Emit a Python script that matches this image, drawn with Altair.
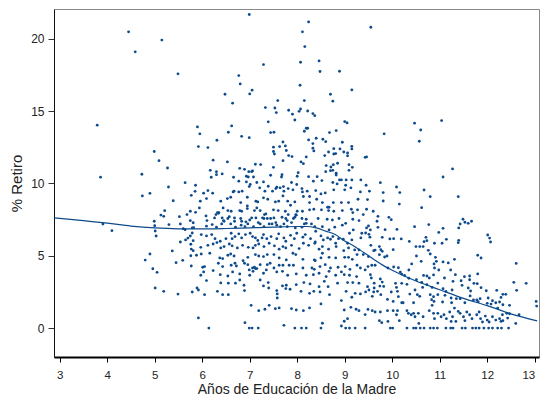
import altair as alt
import pandas as pd

# ---- scatter values (x = años de educación, y = % retiro) ----
zone_a = [(3.79,14.02),(3.86,10.43),(3.91,7.19),(4.10,6.73),(4.45,20.47),(4.59,19.09),(4.73,10.63),(4.74,9.13),
 (4.80,4.70),(4.90,9.31),(4.90,5.12),(4.96,4.10),(4.99,12.20),(4.99,7.38),(5.00,7.07),(5.01,6.71),(5.03,6.36),
 (5.01,2.77),(5.05,3.85),(5.09,11.57),(5.13,7.81),(5.15,19.90),(5.19,7.72),(5.19,2.54),(5.21,8.11),(5.27,11.06),
 (5.29,9.75),(5.30,7.15),(5.37,5.33),(5.39,8.80),(5.45,4.52),(5.49,17.57),(5.49,2.35),(5.52,7.70),(5.54,7.19),
 (5.54,5.95),(5.59,4.68),(5.60,6.87),(5.64,10.05),(5.64,6.80),(5.65,6.09),(5.68,7.84),(5.70,6.22),(5.75,8.07),
 (5.75,7.42),(5.75,6.36),(5.76,5.79),(5.76,5.00),(5.77,9.17),(5.77,5.46),(5.77,4.29),(5.79,6.92),(5.79,6.57),
 (5.79,2.49),(5.81,7.28),(5.81,6.04),(5.81,5.35),(5.82,6.94),(5.85,9.45),(5.86,9.87),(5.86,8.00),(5.88,5.03),
 (5.89,2.77),(5.90,13.90),(5.92,12.54)]

zone_b = [(5.95,13.42),(6.12,12.47),(6.31,12.98),(6.23,11.60),(6.17,10.90),(6.30,10.80),(6.30,10.60),(6.19,10.42),
 (6.42,10.65),(6.48,16.16),(6.53,11.48),(6.55,13.53),(6.62,13.97),(6.64,15.54),(6.77,17.45),(6.79,11.04),(6.80,16.87),
 (6.83,13.25),(6.89,10.97),(6.93,10.49),(6.97,10.44),(6.98,10.81),(6.99,21.67),(6.99,13.16),(7.00,16.18),(7.04,10.81),
 (7.05,16.44),(7.06,10.86),(7.08,10.44),(7.12,11.32),(7.23,11.30),(7.29,18.21),(7.33,15.24),(7.39,14.25),(7.44,13.51),
 (7.44,10.56),(7.50,12.50),(7.50,12.20),(7.50,11.11),(7.51,13.53),(7.52,12.03),(7.53,15.21),(7.56,14.89),(7.59,15.72),
 (7.63,12.54),(7.67,10.44),(7.68,10.60),(7.70,12.86),(7.70,11.57),(7.75,12.59),(7.77,12.27),(7.82,15.05),(7.82,11.92),
 (7.89,11.85),(7.90,14.78),(7.95,14.38),(8.00,10.49),(8.02,10.74),(8.04,14.98),(8.06,16.78),(8.07,18.37),(8.07,15.14),
 (8.08,11.48),(8.11,20.47),(8.13,11.36),(8.15,15.72),(8.15,13.60),(8.16,19.45),(8.19,13.81),(8.19,11.83),(8.22,13.81),
 (8.22,15.00),(8.24,21.16),(8.24,13.00),(8.24,10.46),(8.33,14.82),(8.33,12.75),(8.33,12.43),(8.35,12.24),(8.37,14.68),
 (8.40,13.12),(8.42,10.46),(8.46,18.46),(8.48,17.73),(8.54,13.05),(8.58,11.92),(8.60,12.88),(8.60,10.81),(8.61,11.23),
 (8.66,12.17),(8.68,13.51),(8.70,16.16),(8.70,10.88),(8.71,11.13),(8.75,15.68),(8.75,10.90),(8.76,11.29),(8.77,12.40),
 (8.77,12.03),(8.81,12.06),(8.82,13.65),(8.82,10.70),(8.82,10.57),(8.85,11.39),(8.89,17.75),(8.90,12.38),(8.95,12.84),
 (8.98,12.17),(9.00,14.27),(9.05,14.18),(9.06,12.10),(9.06,11.90),(9.09,11.29),(9.09,10.90),(9.15,16.46),(9.15,12.56),
 (9.15,12.38),(9.16,11.11),(9.43,11.80),(9.46,11.83),(9.55,20.79)]

zone_c = [(9.83,13.42),(10.47,14.16),(10.57,12.91),(10.60,13.69),(11.04,14.34),(11.07,10.44),(11.27,11.00)]

zone_d1 = [(6.66,10.42),(8.89,10.24),(8.93,10.24),(9.03,10.24),(9.15,10.24),(9.34,10.24),
 (6.77,10.15),(6.93,10.10),(7.15,10.06),(7.29,10.10),(7.01,9.92),(6.99,9.78),(7.21,9.69),(7.39,9.80),(7.57,9.73),
 (7.71,9.78),(7.64,9.69),(7.88,10.06),(7.99,9.92),(8.10,9.64),(8.34,10.15),(8.52,10.19),(8.75,10.06),(8.84,9.96),
 (9.02,9.87),(9.45,9.87),(6.12,9.50),(6.03,9.32),(6.22,9.32),(6.67,9.46),(6.77,9.41),(6.65,9.41),(6.84,9.46),
 (7.32,9.46),(7.48,9.46),(7.55,9.64),(7.72,9.46),(7.81,9.64),(7.91,9.55),(8.11,9.41),(8.21,9.46),(8.26,9.09),
 (8.13,9.09),(8.39,9.50),(8.50,9.27),(8.59,9.34),(8.77,9.55),(9.00,9.55),(9.13,9.69),(9.33,9.41),(9.52,9.46),
 (5.96,8.77),(6.09,8.95),(6.39,8.77),(6.53,8.95),(6.60,9.04),(6.81,8.67),(6.95,9.04),(7.13,8.77),(7.17,8.72),
 (7.29,9.00),(7.38,8.90),(7.54,8.72),(7.61,8.77),(7.70,9.13),(7.80,8.77),(7.86,8.49),(7.95,8.72),(8.26,8.67),
 (8.41,8.90),(8.53,8.67),(8.67,8.35),(8.76,8.67),(8.93,8.67),(9.08,8.67),(9.28,8.90),(9.48,8.88),
 (5.94,8.30),(6.32,7.98),(6.35,7.98),(6.44,8.30),(6.54,8.12),(6.61,8.07),(6.79,8.12),(6.83,8.07),(6.95,8.44),
 (6.95,8.26),(7.10,8.12),(7.15,8.30),(7.22,8.12),(7.34,7.89),(7.50,8.17),(7.60,8.12),(7.75,8.07),(7.81,7.84),
 (7.97,7.84),(8.00,8.07),(8.11,8.07),(8.26,8.17),(8.35,8.21),(8.51,8.17),(8.66,8.12),(8.64,8.35),(8.77,8.07),
 (8.95,8.12),(9.14,8.21),(9.27,8.17),(9.17,7.98),(9.46,8.21)]

zone_d2 = [(6.08,7.75),(6.10,7.43),(6.26,7.61),(6.29,7.84),(6.34,7.93),(6.42,7.61),(6.45,7.43),(6.46,7.38),
 (6.54,7.57),(6.57,7.70),(6.68,7.61),(6.68,7.38),(6.81,7.57),(6.83,7.38),(6.92,7.34),(7.00,7.47),(7.04,7.61),
 (7.13,7.61),(7.18,7.29),(7.27,7.61),(7.30,7.57),(7.31,7.84),(7.37,7.57),(7.44,7.57),(7.51,7.61),(7.55,7.29),
 (7.68,7.66),(7.76,7.57),(7.79,7.43),(7.88,7.29),(7.92,7.57),(7.95,7.66),(7.98,7.80),(8.10,7.57),(8.19,7.52),
 (8.30,7.20),(8.44,7.57),(8.63,7.52),(8.74,7.47),(8.88,7.57),(9.02,7.24),(9.17,7.52),(9.30,7.43),(9.39,7.84),
 (9.50,7.06),(6.09,7.04),(6.21,7.15),(6.30,6.97),(6.41,7.20),(6.60,7.20),(6.70,6.97),(6.82,7.11),(6.90,7.01),
 (6.96,7.20),(7.08,7.01),(7.22,7.20),(7.30,7.01),(7.41,7.20),(7.47,7.20),(7.57,7.11),(7.65,7.01),(7.72,7.20),
 (7.79,7.01),(7.96,6.92),(8.10,6.97),(8.15,7.20),(8.19,7.24),(8.37,7.01),(8.53,7.01),(8.67,6.78),(8.79,6.97),
 (8.95,7.11),(9.10,6.55),(9.18,6.78),(9.36,6.55),(9.46,6.92),(9.54,6.78),(5.98,6.46),(6.09,6.37),(6.20,6.46),
 (6.27,6.18),(6.38,6.00),(6.50,6.18),(6.61,6.55),(6.63,6.18),(6.69,6.32),(6.77,6.51),(6.83,6.23),(6.91,6.46),
 (7.01,6.55),(7.06,6.32),(7.12,6.23),(7.17,6.05),(7.26,6.23),(7.29,6.46),(7.36,6.18),(7.45,6.32),(7.57,6.18),
 (7.61,6.51),(7.72,6.23),(7.76,6.00),(7.86,6.41),(7.94,6.18),(7.99,6.55),(8.12,6.28),(8.17,6.46),(8.28,6.18),
 (8.39,6.69),(8.38,5.95),(8.50,6.37),(8.55,6.09),(8.64,6.23),(8.70,6.14),(8.75,6.32),(8.81,5.86),(8.87,6.18),
 (8.97,6.14),(9.06,5.86),(9.15,6.09),(9.34,6.23),(9.53,6.28)]

zone_d3 = [(5.97,5.58),(6.12,5.72),(6.23,5.81),(6.31,5.91),(6.39,5.54),(6.46,5.63),(6.57,5.81),(6.63,5.68),
 (6.74,5.54),(6.85,5.72),(6.97,5.58),(7.07,5.54),(7.12,5.72),(7.19,5.81),(7.30,5.63),(7.41,5.86),(7.52,5.68),
 (7.62,5.45),(7.70,5.63),(7.76,5.54),(7.88,5.72),(8.04,5.49),(8.13,5.86),(8.24,5.72),(8.37,5.86),(8.46,5.45),
 (8.53,5.63),(8.66,5.45),(8.82,5.63),(8.98,5.35),(9.08,5.54),(9.21,5.40),(9.30,5.40),(9.55,5.72),(9.61,5.35),
 (5.98,5.12),(6.16,5.17),(6.37,4.85),(6.43,4.80),(6.54,5.03),(6.60,5.12),(6.67,4.98),(6.86,4.66),(6.96,4.89),
 (7.12,5.08),(7.19,4.98),(7.29,4.94),(7.37,5.08),(7.51,5.08),(7.62,4.85),(7.77,4.71),(7.91,5.17),(7.97,5.08),
 (8.12,4.75),(8.36,4.71),(8.38,4.66),(8.50,4.85),(8.53,5.17),(8.67,4.89),(8.81,4.85),(9.00,4.89),(9.08,4.89),
 (9.16,4.75),(9.26,5.08),(9.39,5.08),(9.50,4.94),(6.01,4.20),(6.05,4.25),(6.34,4.48),(6.43,4.25),(6.61,4.34),
 (6.69,4.48),(6.72,4.29),(6.89,4.48),(6.96,4.38),(7.10,4.20),(7.15,4.11),(7.22,4.38),(7.37,4.38),(7.43,4.48),
 (7.51,4.15),(7.62,4.34),(7.70,4.34),(7.83,4.34),(7.92,4.34),(8.12,4.15),(8.31,4.15),(8.36,4.06),(8.48,4.25),
 (8.59,4.38),(8.70,4.15),(8.86,4.20),(9.01,4.25),(9.11,4.06),(9.26,4.34),(9.33,4.15),(9.49,4.25),(9.57,4.34)]

zone_d4 = [(6.03,3.88),(5.97,3.65),(6.23,3.97),(6.38,3.69),(6.54,3.60),(6.64,3.88),(6.79,3.74),(6.99,4.02),
 (7.06,4.15),(7.07,3.92),(7.12,4.11),(7.29,3.79),(7.35,4.02),(7.57,3.88),(7.69,3.92),(7.80,3.65),(7.98,3.74),
 (8.19,3.65),(8.34,3.69),(8.46,3.79),(8.61,3.56),(8.67,3.92),(8.81,3.65),(8.93,3.88),(8.99,3.69),(9.10,3.65),
 (9.25,3.56),(9.43,4.02),(9.54,3.69),(6.09,3.28),(6.39,3.12),(6.55,3.10),(6.70,3.10),(6.79,3.32),(6.88,2.96),
 (7.00,3.65),(7.22,3.32),(7.39,3.14),(7.69,2.91),(7.77,2.96),(7.98,3.00),(8.14,3.14),(8.27,3.05),(8.46,2.86),
 (8.57,3.23),(8.65,2.86),(8.85,3.10),(9.06,3.14),(9.17,3.14),(9.30,3.10),(9.48,2.86),(9.62,3.10),(5.92,2.63),
 (6.05,2.31),(6.32,2.54),(6.43,2.31),(6.55,2.31),(6.89,2.59),(7.29,2.91),(7.40,2.77),(7.57,2.59),(7.58,2.36),
 (7.76,2.73),(7.85,2.68),(8.08,2.54),(8.26,2.40),(8.35,2.54),(8.48,2.50),(8.68,2.31),(8.93,1.90),(9.03,2.54),
 (9.15,2.13),(9.22,2.40),(9.33,2.36),(9.44,2.50),(9.51,2.63),(9.61,2.50),(7.58,2.08),(7.03,1.57),(7.19,1.20),
 (7.32,1.30),(7.41,1.57),(7.54,1.34),(7.62,1.39),(7.88,1.34),(7.98,1.25),(8.13,1.20),(8.26,1.39),(8.50,1.67),
 (8.99,1.25),(9.13,1.43),(9.24,1.30),(9.30,1.20),(9.43,0.93),(9.58,1.20),(9.64,1.11),(5.92,0.70),(6.90,0.37),
 (7.72,0.19),(8.53,0.33),(8.99,0.47),(9.06,0.65),(8.93,0.14)]

zone_e1 = [(9.75,10.05),(10.09,9.75),(10.16,9.36),(9.81,9.36),(10.67,9.54),(10.80,9.08),(11.39,9.08),(9.81,8.78),
 (10.15,8.57),(10.62,8.32),(9.60,8.07),(9.70,7.72),(9.68,7.38),(9.93,7.65),(9.98,7.49),(11.49,7.52),(11.53,7.31),
 (11.43,7.19),(11.60,7.24),(11.67,7.38),(9.70,6.96),(9.85,6.80),(10.10,6.82),(10.47,7.01),(10.77,7.15),(11.07,6.89),
 (11.40,6.92),(10.98,6.61),(10.19,6.16),(10.03,6.18),(9.79,6.27),(9.95,6.16),(9.44,6.57),(9.51,6.48),(10.36,5.99),
 (10.71,6.27),(10.73,6.04),(10.67,5.97),(11.14,6.13),(11.05,5.86),(11.40,6.06),(11.39,5.90),(12.01,6.43),(12.05,6.22),
 (12.07,5.95),(9.64,5.39),(9.73,5.63),(9.76,5.42),(9.79,5.30),(10.02,5.42),(10.50,5.63),(10.58,5.63),(10.65,5.63),
 (10.76,5.37),(10.80,5.12),(10.89,5.86),(11.80,5.03),(9.73,5.07)]

zone_e2 = [(9.89,4.98),(9.84,4.91),(10.51,4.98),(10.61,4.61),(10.91,4.89),(10.93,4.61),(11.31,4.75),(11.07,4.57),
 (11.18,4.50),(10.88,4.43),(11.87,4.84),(12.61,4.47),(9.64,4.34),(9.91,4.15),(10.03,4.22),(10.13,4.17),(10.17,3.87),
 (10.20,3.73),(10.35,4.01),(10.41,4.43),(10.26,3.64),(10.35,3.44),(10.51,3.34),(10.66,3.64),(10.73,3.60),(10.78,3.46),
 (10.87,3.67),(10.89,4.15),(10.98,4.01),(11.10,3.46),(11.23,4.01),(11.33,3.69),(11.52,3.55),(11.63,3.60),(11.72,3.09),
 (11.80,3.74),(11.63,3.34),(11.45,3.27),(11.28,3.23),(9.56,3.46),(9.75,3.39),(9.79,3.18),(10.07,3.09),(10.20,3.09),
 (10.31,3.02),(10.62,3.16),(10.73,3.00),(10.84,2.81),(10.96,3.11),(11.07,2.72),(11.13,2.54),(11.26,2.63),(11.47,2.95),
 (11.60,2.77),(11.65,2.56),(11.79,3.07),(11.87,2.79),(11.98,2.58),(12.20,2.61),(12.29,2.12),(12.33,2.33),(12.39,2.33),
 (12.56,3.16),(12.62,2.61),(12.82,3.09),(9.69,2.54),(9.76,2.31),(9.62,2.77),(9.74,2.90),(9.82,2.88),(9.58,2.19),
 (9.98,2.49),(10.11,2.54),(10.13,2.17),(10.09,2.81),(10.37,2.35),(10.48,2.63),(10.53,2.31),(10.58,2.19),(10.64,2.81),
 (10.80,2.31),(10.87,2.17),(10.96,2.31),(11.11,2.26),(11.24,2.08),(11.35,2.03),(11.43,2.03),(11.64,2.22),(11.85,2.03),
 (12.02,2.08)]

zone_e3 = [(13.03,1.84),(13.04,1.52),(9.90,1.98),(10.02,1.84),(10.20,1.75),(10.45,1.75),(10.83,1.96),(10.88,1.84),
 (11.06,1.80),(11.25,1.75),(11.53,1.75),(11.71,1.94),(11.78,1.94),(11.81,1.82),(12.00,1.71),(12.08,1.66),(12.11,1.89),
 (12.18,1.75),(12.26,1.80),(12.33,1.61),(12.47,1.57),(12.41,1.02),(12.22,1.38),(12.32,0.92),(12.47,0.99),(9.49,1.29),
 (9.75,1.11),(9.73,0.51),(9.78,0.37),(9.90,1.20),(9.91,0.46),(10.02,1.20),(10.11,1.20),(10.09,0.92),(10.15,0.51),
 (10.23,1.75),(10.31,1.20),(10.34,1.02),(10.40,0.92),(10.45,1.02),(10.48,0.78),(10.55,1.02),(10.56,0.32),(10.65,0.78),
 (10.78,1.20),(10.84,1.57),(10.87,1.02),(10.89,0.65),(10.96,1.02),(11.03,0.78),(11.09,0.92),(11.14,0.65),(11.21,1.11),
 (11.24,0.46),(11.27,0.78),(11.31,1.38),(11.34,0.46),(11.39,1.15),(11.43,1.02),(11.50,0.78),(11.53,0.51),(11.57,1.11),
 (11.63,0.92),(11.68,0.65),(11.78,0.92),(11.83,1.11),(11.86,0.65),(11.90,0.42),(11.96,0.83),(12.00,0.55),(12.04,0.42),
 (12.11,0.78),(12.18,0.55),(12.26,0.65),(12.29,0.46),(12.33,0.51),(12.43,0.69),(12.60,0.32),(12.67,0.92)]

# points sitting exactly at 0 % retiro
zero_x = [6.14,6.99,7.05,7.18,7.95,8.09,8.19,8.50,9.02,9.10,9.22,9.43,9.96,10.01,10.31,10.45,10.50,10.59,
          10.67,10.80,10.87,10.95,11.13,11.23,11.28,11.47,11.54,11.69,11.76,11.83,11.93,12.03,12.11,12.22,12.30,12.45]

# smoothed (lowess-like) curve
line_x = [2.89,3.5,4.0,4.5,5.0,5.5,6.0,6.5,7.0,7.5,8.0,8.2,8.4,8.6,8.8,9.0,9.2,9.4,9.6,9.8,10.0,10.5,11.0,11.5,12.0,12.5,13.05]
line_y = [7.62,7.42,7.25,7.05,6.92,6.86,6.85,6.88,6.93,6.98,7.02,7.02,6.92,6.70,6.46,6.02,5.66,5.22,4.78,4.35,4.00,3.25,2.65,2.05,1.55,0.98,0.50]

x_ticks = [3,4,5,6,7,8,9,10,11,12,13]
y_ticks = [0,5,10,15,20]

pts = zone_a + zone_b + zone_c + zone_d1 + zone_d2 + zone_d3 + zone_d4 + zone_e1 + zone_e2 + zone_e3 + [(x, 0.0) for x in zero_x]
df_pts = pd.DataFrame(pts, columns=["edu", "retiro"])
df_line = pd.DataFrame({"edu": line_x, "retiro": line_y})

BLUE = "#0d4b8c"
FONT = "Liberation Sans"

xscale = alt.Scale(domain=[2.88, 13.09], nice=False, zero=False)
yscale = alt.Scale(domain=[-2.0, 22.05], nice=False, zero=False)

xaxis = alt.Axis(values=x_ticks, title="Años de Educación de la Madre", grid=False,
                 domainColor="#000000", domainWidth=2, tickColor="#000000", tickSize=5, tickWidth=1,
                 labelFontSize=11.5, labelPadding=7.5, labelColor="#222222", labelFont=FONT, labelFlush=5,
                 titleFontSize=14, titleFont=FONT, titleFontWeight="normal", titleColor="#222222", titlePadding=1.8)
yaxis = alt.Axis(values=y_ticks, title="% Retiro", grid=False,
                 domainColor="#111111", domainWidth=1, tickColor="#333333", tickSize=6, tickWidth=1,
                 labelFontSize=12, labelPadding=4, labelColor="#222222", labelFont=FONT,
                 titleFontSize=15, titleFont=FONT, titleFontWeight="normal", titleColor="#222222", titlePadding=6)

points = alt.Chart(df_pts).mark_circle(size=8, color=BLUE, opacity=1).encode(
    x=alt.X("edu:Q", scale=xscale, axis=xaxis),
    y=alt.Y("retiro:Q", scale=yscale, axis=yaxis),
)
line = alt.Chart(df_line).mark_line(color=BLUE, strokeWidth=1.2, interpolate="monotone").encode(
    x=alt.X("edu:Q", scale=xscale),
    y=alt.Y("retiro:Q", scale=yscale),
)

chart = alt.layer(points, line).properties(
    width=485, height=348,
    autosize=alt.AutoSizeParams(type="none"),
    padding={"left": 46, "top": 1, "right": 1, "bottom": 40},
    background="white",
).configure_view(stroke="#888888", strokeWidth=1)

chart.save("out.html", embed_options={"renderer": "svg", "actions": False})
